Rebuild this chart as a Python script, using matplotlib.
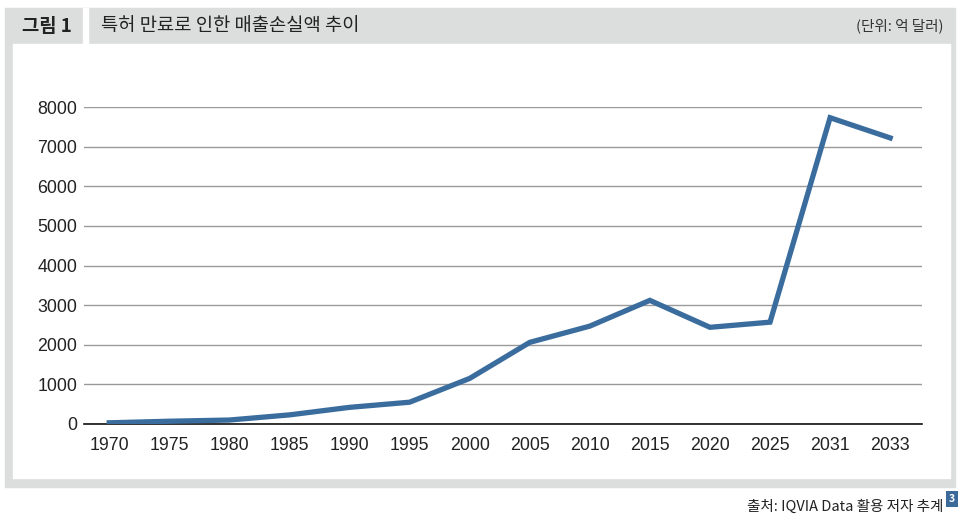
import matplotlib.pyplot as plt
from matplotlib.patches import Rectangle

plt.rcParams['font.family'] = ['Liberation Sans', 'Noto Sans CJK KR', 'DejaVu Sans']

# 특허 만료로 인한 매출손실액 (억 달러)
years = ['1970', '1975', '1980', '1985', '1990', '1995', '2000',
         '2005', '2010', '2015', '2020', '2025', '2031', '2033']
loss = [30, 70, 100, 230, 420, 550, 1150, 2060, 2470, 3120, 2440, 2570, 7730, 7220]
yticks = [0, 1000, 2000, 3000, 4000, 5000, 6000, 7000, 8000]

fig = plt.figure(figsize=(9.66, 5.22), dpi=100)
W, H = 966, 522

def box(x, y, w, h, color):
    # pixel box (top-left origin) -> rectangle in figure coords
    r = Rectangle((x / W, 1 - (y + h) / H), w / W, h / H,
                  transform=fig.transFigure, color=color, zorder=-5)
    fig.patches.append(r)

gray = '#dcdddd'
box(5, 8, 950, 479, gray)          # outer frame
box(13, 44, 937, 434, 'white')     # inner panel
box(83, 8, 5, 36, 'white')         # gap between header boxes

kr = ['Noto Sans CJK KR', 'DejaVu Sans']
fig.text(22 / W, 1 - 26 / H, '그림 1', fontsize=13.5, fontweight='bold',
         family=kr, va='center', ha='left', color='#222222')
fig.text(101 / W, 1 - 26 / H, '특허 만료로 인한 매출손실액 추이', fontsize=13.5,
         fontweight='medium', family=kr, va='center', ha='left', color='#222222')
fig.text(944 / W, 1 - 26 / H, '(단위: 억 달러)', fontsize=10.5,
         family=kr, va='center', ha='right', color='#333333')
fig.text(943 / W, 1 - 507 / H, '출처: IQVIA Data 활용 저자 추계', fontsize=10.5,
         family=kr, va='center', ha='right', color='#222222')
fig.text(952 / W, 1 - 499 / H, '3', fontsize=7.5, fontweight='bold', color='white',
         ha='center', va='center', family=kr,
         bbox=dict(boxstyle='square,pad=0.3', fc='#3b6a9a', ec='none'))

ax = fig.add_axes([84 / W, 1 - 424 / H, (922 - 84) / W, (424 - 107) / H])
x = list(range(len(years)))
ax.plot(x, loss, color='#3a6d9e', linewidth=3.8, solid_joinstyle='miter', zorder=3)

ax.set_ylim(0, 8000)
ax.set_xlim(-0.42, 13.53)
ax.set_yticks(yticks)
ax.set_yticklabels([str(v) for v in yticks])
ax.set_xticks(x)
ax.set_xticklabels(years)
ax.yaxis.grid(True, color='#9a9a9a', linewidth=1)
ax.set_axisbelow(True)
for s in ['top', 'right', 'left']:
    ax.spines[s].set_visible(False)
ax.spines['bottom'].set_color('#111111')
ax.spines['bottom'].set_linewidth(1.2)
ax.tick_params(axis='both', length=0, labelsize=12.8, colors='#222222')
ax.tick_params(axis='y', pad=5)
ax.tick_params(axis='x', pad=9)
ax.patch.set_visible(False)

fig.savefig('out.png', dpi=100)
